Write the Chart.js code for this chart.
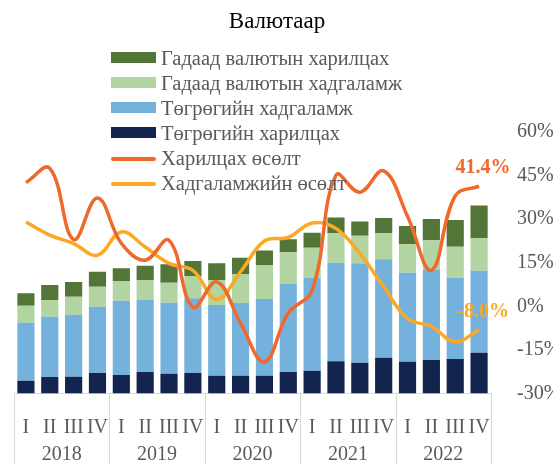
<!DOCTYPE html>
<html>
<head>
<meta charset="utf-8">
<script src="https://cdn.jsdelivr.net/npm/chart.js@4"></script>
<style>body{margin:0;background:#fff}</style>
</head>
<body>
<canvas id="myChart" width="560" height="464"></canvas>
<script>
const quarters = ['I','II','III','IV','I','II','III','IV','I','II','III','IV','I','II','III','IV','I','II','III','IV']
const years = ['2018','2019','2020','2021','2022']

// stacked bars (left axis hidden)
const togrogCurrent = [1.47,1.89,1.93,2.35,2.12,2.47,2.27,2.35,2.04,2.04,2.04,2.47,2.61,3.69,3.53,4.11,3.65,3.84,3.96,4.68]
const togrogSaving = [6.65,6.92,7.11,7.60,8.52,8.26,8.14,8.57,8.11,8.34,8.80,10.09,10.67,11.31,11.40,11.28,10.21,10.38,9.32,9.40]
const fxSaving = [1.95,1.92,2.06,2.29,2.26,2.29,2.29,2.56,2.87,3.33,3.90,3.64,3.44,3.37,3.17,2.98,3.26,3.35,3.56,3.75]
const fxCurrent = [1.42,1.72,1.69,1.72,1.46,1.64,2.14,1.72,1.92,1.87,1.66,1.49,1.72,1.83,1.63,1.75,2.10,2.44,3.06,3.75]

// growth lines, % (right axis)
const currentGrowth = [42.6,47.5,23.0,37.3,21.7,15.9,22.7,-0.3,8.4,-5.8,-19.1,-2.3,5.5,45.1,39.3,46.6,31.0,12.4,38.0,41.4]
const savingGrowth = [29.0,24.5,21.6,17.6,25.6,20.4,14.8,12.4,2.4,11.9,22.5,23.7,28.7,26.8,18.2,6.7,-4.2,-6.9,-12.2,-8.0]

const serif = "'Liberation Serif', 'Times New Roman', serif"
const grey = '#595959'

const legendOrder = [3, 2, 1, 0, 4, 5]

const extras = {
    id: 'extras',
    afterDraw(chart) {
        const ctx = chart.ctx
        const x = chart.scales.x
        const area = chart.chartArea
        const step = x.getPixelForValue(1) - x.getPixelForValue(0)
        ctx.save()
        ////// year separators + years
        ctx.strokeStyle = '#d9d9d9'
        ctx.lineWidth = 1
        for (let g = 0; g <= years.length; g++) {
            const px = Math.round(x.getPixelForValue(g * 4) - step / 2) + 0.5
            ctx.beginPath()
            ctx.moveTo(px, area.bottom)
            ctx.lineTo(px, chart.height)
            ctx.stroke()
        }
        ctx.fillStyle = grey
        ctx.font = '20px ' + serif
        ctx.textAlign = 'center'
        ctx.textBaseline = 'middle'
        years.forEach((y, g) => {
            const cx = (x.getPixelForValue(g * 4) + x.getPixelForValue(g * 4 + 3)) / 2
            ctx.fillText(y, cx, 455)
        })
        ////// last-point labels
        ctx.font = 'bold 20px ' + serif
        ;[4, 5].forEach(i => {
            const ds = chart.data.datasets[i]
            const pts = chart.getDatasetMeta(i).data
            const p = pts[pts.length - 1]
            const v = ds.data[ds.data.length - 1]
            ctx.fillStyle = ds.borderColor
            ctx.fillText(v.toFixed(1) + '%', p.x + 4, p.y - 18)
        })
        ////// title
        ctx.fillStyle = '#000'
        ctx.font = '23px ' + serif
        ctx.textBaseline = 'alphabetic'
        ctx.fillText('Валютаар', 277, 28)
        ////// legend
        ctx.font = '20.5px ' + serif
        ctx.textAlign = 'left'
        legendOrder.forEach((i, row) => {
            const ds = chart.data.datasets[i]
            const base = 65 + row * 25
            if (ds.type === 'line') {
                ctx.strokeStyle = ds.borderColor
                ctx.lineWidth = 4
                ctx.lineCap = 'round'
                ctx.beginPath()
                ctx.moveTo(113, base - 6)
                ctx.lineTo(154, base - 6)
                ctx.stroke()
            } else {
                ctx.fillStyle = ds.backgroundColor
                ctx.fillRect(111, base - 13, 45, 11)
            }
            ctx.fillStyle = grey
            ctx.fillText(ds.label, 161, base)
        })
        ctx.restore()
    }
}

const ctx = document.getElementById('myChart')
const myChart = new Chart(ctx, {
    data: {
        labels: quarters,
        datasets: [
            { type: 'bar', label: 'Төгрөгийн харилцах', data: togrogCurrent, backgroundColor: '#13244f', order: 1 },
            { type: 'bar', label: 'Төгрөгийн хадгаламж', data: togrogSaving, backgroundColor: '#74b1dc', order: 1 },
            { type: 'bar', label: 'Гадаад валютын хадгаламж', data: fxSaving, backgroundColor: '#b2d4a0', order: 1 },
            { type: 'bar', label: 'Гадаад валютын харилцах', data: fxCurrent, backgroundColor: '#537537', order: 1 },
            { type: 'line', label: 'Харилцах өсөлт', data: currentGrowth, yAxisID: 'y1', borderColor: '#ee6a2c',
              borderWidth: 3.5, pointRadius: 0, tension: 0.4, order: 0 },
            { type: 'line', label: 'Хадгаламжийн өсөлт', data: savingGrowth, yAxisID: 'y1', borderColor: '#fba825',
              borderWidth: 3.5, pointRadius: 0, tension: 0.4, order: 0 }
        ].map(d => d.type === 'bar' ? Object.assign(d, { barPercentage: 0.72, categoryPercentage: 1, borderWidth: 0 }) : d)
    },
    options: {
        responsive: false,
        animation: false,
        layout: { padding: { top: 132, left: 14, right: 7, bottom: 0 } },
        plugins: { legend: { display: false }, tooltip: { enabled: false } },
        scales: {
            x: {
                stacked: true,
                grid: { display: false },
                border: { display: true, color: '#d9d9d9' },
                ticks: { color: grey, font: { family: serif, size: 20 }, padding: 14, autoSkip: false, maxRotation: 0 },
                afterFit(scale) { scale.height = 70.5 }
            },
            y: { stacked: true, display: false, min: 0, max: 30 },
            y1: {
                position: 'right',
                min: -30, max: 60,
                grid: { display: false },
                border: { display: false },
                ticks: { stepSize: 15, color: grey, font: { family: serif, size: 20 }, padding: 18,
                         callback: v => v + '%' },
                afterFit(scale) { scale.width = 62 }
            }
        }
    },
    plugins: [extras]
})
</script>
</body>
</html>
